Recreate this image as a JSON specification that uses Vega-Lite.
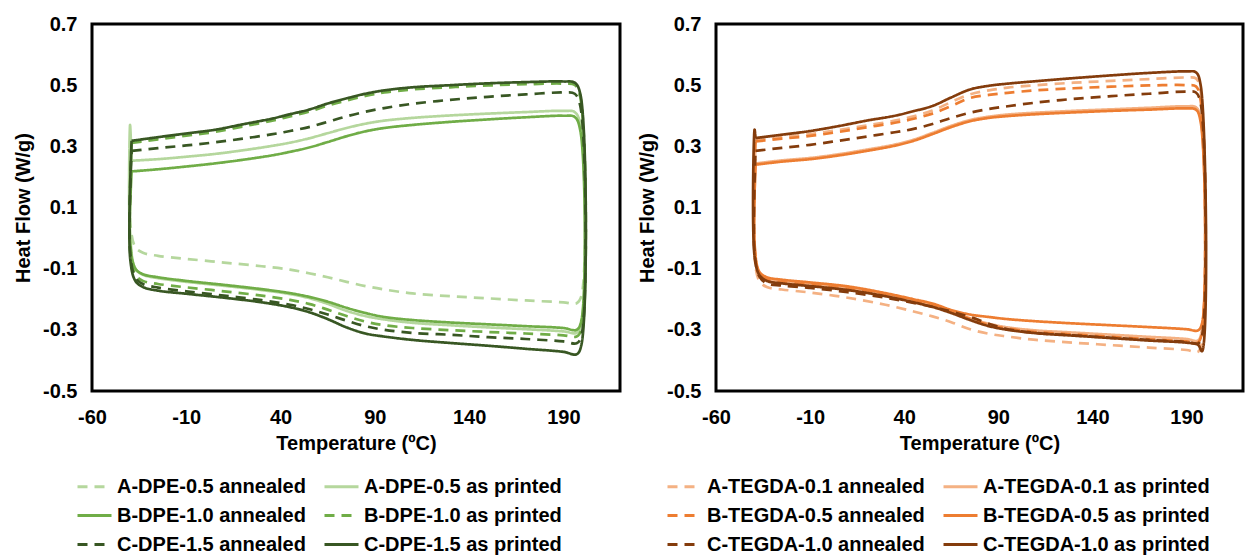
{
"$schema": "https://vega.github.io/schema/vega-lite/v6.json",
"padding": {"left": 12, "top": 12, "right": 0, "bottom": 0},
"config": {
 "font": "Liberation Sans",
 "view": {"stroke": "#000", "strokeWidth": 3},
 "axis": {"grid": false, "ticks": false, "domain": false, "labelFlush": false, "labelOverlap": false, "labelFont": "Liberation Sans", "labelFontSize": 20, "labelFontWeight": "bold", "labelColor": "#000", "titleFont": "Liberation Sans", "titleFontSize": 20, "titleFontWeight": "bold", "titleColor": "#000"},
 "axisX": {"labelPadding": 16, "titlePadding": 6},
 "axisY": {"labelPadding": 15, "titlePadding": 9},
 "legend": {"labelFont": "Liberation Sans", "labelFontSize": 20, "labelFontWeight": "bold", "labelColor": "#000", "symbolType": "stroke", "symbolSize": 1156, "symbolStrokeWidth": 3, "labelOffset": 4, "rowPadding": 0, "columnPadding": 12, "labelLimit": 400}
},
"datasets": {
"dpe": [
{"s":"A-DPE-0.5 annealed","t":-39,"h":0.314},{"s":"A-DPE-0.5 annealed","t":-25,"h":0.326},{"s":"A-DPE-0.5 annealed","t":-10,"h":0.338},{"s":"A-DPE-0.5 annealed","t":5,"h":0.35},{"s":"A-DPE-0.5 annealed","t":20,"h":0.368},{"s":"A-DPE-0.5 annealed","t":35,"h":0.386},{"s":"A-DPE-0.5 annealed","t":45,"h":0.401},{"s":"A-DPE-0.5 annealed","t":55,"h":0.416},{"s":"A-DPE-0.5 annealed","t":65,"h":0.436},{"s":"A-DPE-0.5 annealed","t":75,"h":0.453},{"s":"A-DPE-0.5 annealed","t":85,"h":0.468},{"s":"A-DPE-0.5 annealed","t":95,"h":0.479},{"s":"A-DPE-0.5 annealed","t":110,"h":0.489},{"s":"A-DPE-0.5 annealed","t":130,"h":0.496},{"s":"A-DPE-0.5 annealed","t":150,"h":0.502},{"s":"A-DPE-0.5 annealed","t":170,"h":0.506},{"s":"A-DPE-0.5 annealed","t":190,"h":0.508},{"s":"A-DPE-0.5 annealed","t":196,"h":0.504},{"s":"A-DPE-0.5 annealed","t":199,"h":0.46},{"s":"A-DPE-0.5 annealed","t":199.5,"h":-0.19},{"s":"A-DPE-0.5 annealed","t":197,"h":-0.213},{"s":"A-DPE-0.5 annealed","t":190,"h":-0.21},{"s":"A-DPE-0.5 annealed","t":170,"h":-0.204},{"s":"A-DPE-0.5 annealed","t":150,"h":-0.197},{"s":"A-DPE-0.5 annealed","t":130,"h":-0.19},{"s":"A-DPE-0.5 annealed","t":110,"h":-0.181},{"s":"A-DPE-0.5 annealed","t":95,"h":-0.168},{"s":"A-DPE-0.5 annealed","t":85,"h":-0.157},{"s":"A-DPE-0.5 annealed","t":75,"h":-0.143},{"s":"A-DPE-0.5 annealed","t":65,"h":-0.128},{"s":"A-DPE-0.5 annealed","t":55,"h":-0.115},{"s":"A-DPE-0.5 annealed","t":45,"h":-0.103},{"s":"A-DPE-0.5 annealed","t":30,"h":-0.092},{"s":"A-DPE-0.5 annealed","t":10,"h":-0.08},{"s":"A-DPE-0.5 annealed","t":-10,"h":-0.068},{"s":"A-DPE-0.5 annealed","t":-25,"h":-0.058},{"s":"A-DPE-0.5 annealed","t":-33,"h":-0.048},{"s":"A-DPE-0.5 annealed","t":-37,"h":-0.03},{"s":"A-DPE-0.5 annealed","t":-39.7,"h":0.05},{"s":"A-DPE-0.5 annealed","t":-39,"h":0.314},
{"s":"A-DPE-0.5 as printed","t":-39,"h":0.253},{"s":"A-DPE-0.5 as printed","t":-25,"h":0.258},{"s":"A-DPE-0.5 as printed","t":-10,"h":0.266},{"s":"A-DPE-0.5 as printed","t":5,"h":0.275},{"s":"A-DPE-0.5 as printed","t":20,"h":0.287},{"s":"A-DPE-0.5 as printed","t":35,"h":0.301},{"s":"A-DPE-0.5 as printed","t":45,"h":0.312},{"s":"A-DPE-0.5 as printed","t":55,"h":0.326},{"s":"A-DPE-0.5 as printed","t":65,"h":0.343},{"s":"A-DPE-0.5 as printed","t":75,"h":0.36},{"s":"A-DPE-0.5 as printed","t":85,"h":0.374},{"s":"A-DPE-0.5 as printed","t":95,"h":0.384},{"s":"A-DPE-0.5 as printed","t":110,"h":0.393},{"s":"A-DPE-0.5 as printed","t":130,"h":0.401},{"s":"A-DPE-0.5 as printed","t":150,"h":0.407},{"s":"A-DPE-0.5 as printed","t":170,"h":0.412},{"s":"A-DPE-0.5 as printed","t":190,"h":0.416},{"s":"A-DPE-0.5 as printed","t":196,"h":0.412},{"s":"A-DPE-0.5 as printed","t":199,"h":0.37},{"s":"A-DPE-0.5 as printed","t":199.5,"h":-0.28},{"s":"A-DPE-0.5 as printed","t":197,"h":-0.31},{"s":"A-DPE-0.5 as printed","t":190,"h":-0.305},{"s":"A-DPE-0.5 as printed","t":170,"h":-0.298},{"s":"A-DPE-0.5 as printed","t":150,"h":-0.292},{"s":"A-DPE-0.5 as printed","t":130,"h":-0.285},{"s":"A-DPE-0.5 as printed","t":110,"h":-0.277},{"s":"A-DPE-0.5 as printed","t":95,"h":-0.266},{"s":"A-DPE-0.5 as printed","t":85,"h":-0.255},{"s":"A-DPE-0.5 as printed","t":75,"h":-0.238},{"s":"A-DPE-0.5 as printed","t":65,"h":-0.215},{"s":"A-DPE-0.5 as printed","t":55,"h":-0.196},{"s":"A-DPE-0.5 as printed","t":45,"h":-0.183},{"s":"A-DPE-0.5 as printed","t":30,"h":-0.17},{"s":"A-DPE-0.5 as printed","t":10,"h":-0.156},{"s":"A-DPE-0.5 as printed","t":-10,"h":-0.143},{"s":"A-DPE-0.5 as printed","t":-25,"h":-0.131},{"s":"A-DPE-0.5 as printed","t":-33,"h":-0.12},{"s":"A-DPE-0.5 as printed","t":-37,"h":-0.1},{"s":"A-DPE-0.5 as printed","t":-39.7,"h":0.0},{"s":"A-DPE-0.5 as printed","t":-39.8,"h":0.37},{"s":"A-DPE-0.5 as printed","t":-39,"h":0.253},
{"s":"B-DPE-1.0 annealed","t":-39,"h":0.218},{"s":"B-DPE-1.0 annealed","t":-25,"h":0.225},{"s":"B-DPE-1.0 annealed","t":-10,"h":0.234},{"s":"B-DPE-1.0 annealed","t":5,"h":0.244},{"s":"B-DPE-1.0 annealed","t":20,"h":0.256},{"s":"B-DPE-1.0 annealed","t":35,"h":0.27},{"s":"B-DPE-1.0 annealed","t":45,"h":0.282},{"s":"B-DPE-1.0 annealed","t":55,"h":0.296},{"s":"B-DPE-1.0 annealed","t":65,"h":0.314},{"s":"B-DPE-1.0 annealed","t":75,"h":0.333},{"s":"B-DPE-1.0 annealed","t":85,"h":0.349},{"s":"B-DPE-1.0 annealed","t":95,"h":0.36},{"s":"B-DPE-1.0 annealed","t":110,"h":0.37},{"s":"B-DPE-1.0 annealed","t":130,"h":0.38},{"s":"B-DPE-1.0 annealed","t":150,"h":0.388},{"s":"B-DPE-1.0 annealed","t":170,"h":0.395},{"s":"B-DPE-1.0 annealed","t":190,"h":0.4},{"s":"B-DPE-1.0 annealed","t":196,"h":0.396},{"s":"B-DPE-1.0 annealed","t":199,"h":0.35},{"s":"B-DPE-1.0 annealed","t":199.5,"h":-0.27},{"s":"B-DPE-1.0 annealed","t":197,"h":-0.3},{"s":"B-DPE-1.0 annealed","t":190,"h":-0.294},{"s":"B-DPE-1.0 annealed","t":170,"h":-0.288},{"s":"B-DPE-1.0 annealed","t":150,"h":-0.282},{"s":"B-DPE-1.0 annealed","t":130,"h":-0.276},{"s":"B-DPE-1.0 annealed","t":110,"h":-0.268},{"s":"B-DPE-1.0 annealed","t":95,"h":-0.258},{"s":"B-DPE-1.0 annealed","t":85,"h":-0.245},{"s":"B-DPE-1.0 annealed","t":75,"h":-0.228},{"s":"B-DPE-1.0 annealed","t":65,"h":-0.208},{"s":"B-DPE-1.0 annealed","t":55,"h":-0.192},{"s":"B-DPE-1.0 annealed","t":45,"h":-0.18},{"s":"B-DPE-1.0 annealed","t":30,"h":-0.167},{"s":"B-DPE-1.0 annealed","t":10,"h":-0.153},{"s":"B-DPE-1.0 annealed","t":-10,"h":-0.14},{"s":"B-DPE-1.0 annealed","t":-25,"h":-0.128},{"s":"B-DPE-1.0 annealed","t":-33,"h":-0.118},{"s":"B-DPE-1.0 annealed","t":-37,"h":-0.1},{"s":"B-DPE-1.0 annealed","t":-39.7,"h":-0.02},{"s":"B-DPE-1.0 annealed","t":-39,"h":0.218},
{"s":"B-DPE-1.0 as printed","t":-39,"h":0.311},{"s":"B-DPE-1.0 as printed","t":-25,"h":0.323},{"s":"B-DPE-1.0 as printed","t":-10,"h":0.335},{"s":"B-DPE-1.0 as printed","t":5,"h":0.347},{"s":"B-DPE-1.0 as printed","t":20,"h":0.365},{"s":"B-DPE-1.0 as printed","t":35,"h":0.383},{"s":"B-DPE-1.0 as printed","t":45,"h":0.398},{"s":"B-DPE-1.0 as printed","t":55,"h":0.413},{"s":"B-DPE-1.0 as printed","t":65,"h":0.433},{"s":"B-DPE-1.0 as printed","t":75,"h":0.45},{"s":"B-DPE-1.0 as printed","t":85,"h":0.465},{"s":"B-DPE-1.0 as printed","t":95,"h":0.476},{"s":"B-DPE-1.0 as printed","t":110,"h":0.486},{"s":"B-DPE-1.0 as printed","t":130,"h":0.493},{"s":"B-DPE-1.0 as printed","t":150,"h":0.499},{"s":"B-DPE-1.0 as printed","t":170,"h":0.503},{"s":"B-DPE-1.0 as printed","t":190,"h":0.505},{"s":"B-DPE-1.0 as printed","t":196,"h":0.501},{"s":"B-DPE-1.0 as printed","t":199,"h":0.46},{"s":"B-DPE-1.0 as printed","t":199.5,"h":-0.3},{"s":"B-DPE-1.0 as printed","t":197,"h":-0.322},{"s":"B-DPE-1.0 as printed","t":190,"h":-0.318},{"s":"B-DPE-1.0 as printed","t":170,"h":-0.312},{"s":"B-DPE-1.0 as printed","t":150,"h":-0.307},{"s":"B-DPE-1.0 as printed","t":130,"h":-0.301},{"s":"B-DPE-1.0 as printed","t":110,"h":-0.294},{"s":"B-DPE-1.0 as printed","t":95,"h":-0.285},{"s":"B-DPE-1.0 as printed","t":85,"h":-0.273},{"s":"B-DPE-1.0 as printed","t":75,"h":-0.255},{"s":"B-DPE-1.0 as printed","t":65,"h":-0.234},{"s":"B-DPE-1.0 as printed","t":55,"h":-0.215},{"s":"B-DPE-1.0 as printed","t":45,"h":-0.202},{"s":"B-DPE-1.0 as printed","t":30,"h":-0.188},{"s":"B-DPE-1.0 as printed","t":10,"h":-0.174},{"s":"B-DPE-1.0 as printed","t":-10,"h":-0.161},{"s":"B-DPE-1.0 as printed","t":-25,"h":-0.15},{"s":"B-DPE-1.0 as printed","t":-33,"h":-0.14},{"s":"B-DPE-1.0 as printed","t":-37,"h":-0.12},{"s":"B-DPE-1.0 as printed","t":-39.7,"h":-0.04},{"s":"B-DPE-1.0 as printed","t":-39,"h":0.311},
{"s":"C-DPE-1.5 annealed","t":-39,"h":0.285},{"s":"C-DPE-1.5 annealed","t":-25,"h":0.294},{"s":"C-DPE-1.5 annealed","t":-10,"h":0.303},{"s":"C-DPE-1.5 annealed","t":5,"h":0.313},{"s":"C-DPE-1.5 annealed","t":20,"h":0.325},{"s":"C-DPE-1.5 annealed","t":35,"h":0.339},{"s":"C-DPE-1.5 annealed","t":45,"h":0.35},{"s":"C-DPE-1.5 annealed","t":55,"h":0.363},{"s":"C-DPE-1.5 annealed","t":65,"h":0.38},{"s":"C-DPE-1.5 annealed","t":75,"h":0.398},{"s":"C-DPE-1.5 annealed","t":85,"h":0.413},{"s":"C-DPE-1.5 annealed","t":95,"h":0.425},{"s":"C-DPE-1.5 annealed","t":110,"h":0.439},{"s":"C-DPE-1.5 annealed","t":130,"h":0.452},{"s":"C-DPE-1.5 annealed","t":150,"h":0.462},{"s":"C-DPE-1.5 annealed","t":170,"h":0.47},{"s":"C-DPE-1.5 annealed","t":190,"h":0.476},{"s":"C-DPE-1.5 annealed","t":196,"h":0.472},{"s":"C-DPE-1.5 annealed","t":199,"h":0.43},{"s":"C-DPE-1.5 annealed","t":199.5,"h":-0.32},{"s":"C-DPE-1.5 annealed","t":197,"h":-0.344},{"s":"C-DPE-1.5 annealed","t":190,"h":-0.338},{"s":"C-DPE-1.5 annealed","t":170,"h":-0.33},{"s":"C-DPE-1.5 annealed","t":150,"h":-0.324},{"s":"C-DPE-1.5 annealed","t":130,"h":-0.316},{"s":"C-DPE-1.5 annealed","t":110,"h":-0.31},{"s":"C-DPE-1.5 annealed","t":95,"h":-0.3},{"s":"C-DPE-1.5 annealed","t":85,"h":-0.288},{"s":"C-DPE-1.5 annealed","t":75,"h":-0.27},{"s":"C-DPE-1.5 annealed","t":65,"h":-0.25},{"s":"C-DPE-1.5 annealed","t":55,"h":-0.232},{"s":"C-DPE-1.5 annealed","t":45,"h":-0.218},{"s":"C-DPE-1.5 annealed","t":30,"h":-0.203},{"s":"C-DPE-1.5 annealed","t":10,"h":-0.188},{"s":"C-DPE-1.5 annealed","t":-10,"h":-0.174},{"s":"C-DPE-1.5 annealed","t":-25,"h":-0.162},{"s":"C-DPE-1.5 annealed","t":-33,"h":-0.15},{"s":"C-DPE-1.5 annealed","t":-37,"h":-0.13},{"s":"C-DPE-1.5 annealed","t":-39.7,"h":-0.05},{"s":"C-DPE-1.5 annealed","t":-39,"h":0.285},
{"s":"C-DPE-1.5 as printed","t":-39,"h":0.318},{"s":"C-DPE-1.5 as printed","t":-25,"h":0.33},{"s":"C-DPE-1.5 as printed","t":-10,"h":0.342},{"s":"C-DPE-1.5 as printed","t":5,"h":0.354},{"s":"C-DPE-1.5 as printed","t":20,"h":0.372},{"s":"C-DPE-1.5 as printed","t":35,"h":0.39},{"s":"C-DPE-1.5 as printed","t":45,"h":0.405},{"s":"C-DPE-1.5 as printed","t":55,"h":0.42},{"s":"C-DPE-1.5 as printed","t":65,"h":0.44},{"s":"C-DPE-1.5 as printed","t":75,"h":0.457},{"s":"C-DPE-1.5 as printed","t":85,"h":0.472},{"s":"C-DPE-1.5 as printed","t":95,"h":0.483},{"s":"C-DPE-1.5 as printed","t":110,"h":0.493},{"s":"C-DPE-1.5 as printed","t":130,"h":0.5},{"s":"C-DPE-1.5 as printed","t":150,"h":0.506},{"s":"C-DPE-1.5 as printed","t":170,"h":0.51},{"s":"C-DPE-1.5 as printed","t":190,"h":0.512},{"s":"C-DPE-1.5 as printed","t":196,"h":0.508},{"s":"C-DPE-1.5 as printed","t":199,"h":0.47},{"s":"C-DPE-1.5 as printed","t":199.5,"h":-0.35},{"s":"C-DPE-1.5 as printed","t":197,"h":-0.38},{"s":"C-DPE-1.5 as printed","t":190,"h":-0.372},{"s":"C-DPE-1.5 as printed","t":170,"h":-0.362},{"s":"C-DPE-1.5 as printed","t":150,"h":-0.352},{"s":"C-DPE-1.5 as printed","t":130,"h":-0.343},{"s":"C-DPE-1.5 as printed","t":110,"h":-0.333},{"s":"C-DPE-1.5 as printed","t":95,"h":-0.322},{"s":"C-DPE-1.5 as printed","t":85,"h":-0.312},{"s":"C-DPE-1.5 as printed","t":75,"h":-0.292},{"s":"C-DPE-1.5 as printed","t":65,"h":-0.265},{"s":"C-DPE-1.5 as printed","t":55,"h":-0.242},{"s":"C-DPE-1.5 as printed","t":45,"h":-0.226},{"s":"C-DPE-1.5 as printed","t":30,"h":-0.21},{"s":"C-DPE-1.5 as printed","t":10,"h":-0.195},{"s":"C-DPE-1.5 as printed","t":-10,"h":-0.182},{"s":"C-DPE-1.5 as printed","t":-25,"h":-0.172},{"s":"C-DPE-1.5 as printed","t":-33,"h":-0.16},{"s":"C-DPE-1.5 as printed","t":-37,"h":-0.14},{"s":"C-DPE-1.5 as printed","t":-39.7,"h":-0.07},{"s":"C-DPE-1.5 as printed","t":-39,"h":0.318}
],
"tegda": [
{"s":"A-TEGDA-0.1 annealed","t":-39,"h":0.32},{"s":"A-TEGDA-0.1 annealed","t":-25,"h":0.33},{"s":"A-TEGDA-0.1 annealed","t":-10,"h":0.34},{"s":"A-TEGDA-0.1 annealed","t":5,"h":0.353},{"s":"A-TEGDA-0.1 annealed","t":20,"h":0.368},{"s":"A-TEGDA-0.1 annealed","t":35,"h":0.384},{"s":"A-TEGDA-0.1 annealed","t":45,"h":0.398},{"s":"A-TEGDA-0.1 annealed","t":55,"h":0.417},{"s":"A-TEGDA-0.1 annealed","t":65,"h":0.445},{"s":"A-TEGDA-0.1 annealed","t":75,"h":0.47},{"s":"A-TEGDA-0.1 annealed","t":85,"h":0.483},{"s":"A-TEGDA-0.1 annealed","t":95,"h":0.492},{"s":"A-TEGDA-0.1 annealed","t":110,"h":0.5},{"s":"A-TEGDA-0.1 annealed","t":130,"h":0.508},{"s":"A-TEGDA-0.1 annealed","t":150,"h":0.514},{"s":"A-TEGDA-0.1 annealed","t":170,"h":0.52},{"s":"A-TEGDA-0.1 annealed","t":190,"h":0.525},{"s":"A-TEGDA-0.1 annealed","t":195,"h":0.522},{"s":"A-TEGDA-0.1 annealed","t":197.5,"h":0.48},{"s":"A-TEGDA-0.1 annealed","t":198.2,"h":-0.34},{"s":"A-TEGDA-0.1 annealed","t":196,"h":-0.372},{"s":"A-TEGDA-0.1 annealed","t":190,"h":-0.366},{"s":"A-TEGDA-0.1 annealed","t":170,"h":-0.358},{"s":"A-TEGDA-0.1 annealed","t":150,"h":-0.35},{"s":"A-TEGDA-0.1 annealed","t":130,"h":-0.342},{"s":"A-TEGDA-0.1 annealed","t":110,"h":-0.333},{"s":"A-TEGDA-0.1 annealed","t":95,"h":-0.322},{"s":"A-TEGDA-0.1 annealed","t":85,"h":-0.313},{"s":"A-TEGDA-0.1 annealed","t":75,"h":-0.298},{"s":"A-TEGDA-0.1 annealed","t":65,"h":-0.275},{"s":"A-TEGDA-0.1 annealed","t":55,"h":-0.256},{"s":"A-TEGDA-0.1 annealed","t":45,"h":-0.24},{"s":"A-TEGDA-0.1 annealed","t":30,"h":-0.218},{"s":"A-TEGDA-0.1 annealed","t":10,"h":-0.195},{"s":"A-TEGDA-0.1 annealed","t":-10,"h":-0.178},{"s":"A-TEGDA-0.1 annealed","t":-25,"h":-0.168},{"s":"A-TEGDA-0.1 annealed","t":-33,"h":-0.16},{"s":"A-TEGDA-0.1 annealed","t":-37,"h":-0.14},{"s":"A-TEGDA-0.1 annealed","t":-39.5,"h":-0.06},{"s":"A-TEGDA-0.1 annealed","t":-39,"h":0.32},
{"s":"A-TEGDA-0.1 as printed","t":-39,"h":0.244},{"s":"A-TEGDA-0.1 as printed","t":-25,"h":0.254},{"s":"A-TEGDA-0.1 as printed","t":-10,"h":0.262},{"s":"A-TEGDA-0.1 as printed","t":5,"h":0.274},{"s":"A-TEGDA-0.1 as printed","t":20,"h":0.289},{"s":"A-TEGDA-0.1 as printed","t":35,"h":0.306},{"s":"A-TEGDA-0.1 as printed","t":45,"h":0.322},{"s":"A-TEGDA-0.1 as printed","t":55,"h":0.344},{"s":"A-TEGDA-0.1 as printed","t":65,"h":0.367},{"s":"A-TEGDA-0.1 as printed","t":75,"h":0.386},{"s":"A-TEGDA-0.1 as printed","t":85,"h":0.397},{"s":"A-TEGDA-0.1 as printed","t":95,"h":0.404},{"s":"A-TEGDA-0.1 as printed","t":110,"h":0.41},{"s":"A-TEGDA-0.1 as printed","t":130,"h":0.416},{"s":"A-TEGDA-0.1 as printed","t":150,"h":0.421},{"s":"A-TEGDA-0.1 as printed","t":170,"h":0.426},{"s":"A-TEGDA-0.1 as printed","t":190,"h":0.431},{"s":"A-TEGDA-0.1 as printed","t":195,"h":0.428},{"s":"A-TEGDA-0.1 as printed","t":197.5,"h":0.39},{"s":"A-TEGDA-0.1 as printed","t":198.2,"h":-0.3},{"s":"A-TEGDA-0.1 as printed","t":196,"h":-0.335},{"s":"A-TEGDA-0.1 as printed","t":190,"h":-0.33},{"s":"A-TEGDA-0.1 as printed","t":170,"h":-0.323},{"s":"A-TEGDA-0.1 as printed","t":150,"h":-0.316},{"s":"A-TEGDA-0.1 as printed","t":130,"h":-0.309},{"s":"A-TEGDA-0.1 as printed","t":110,"h":-0.302},{"s":"A-TEGDA-0.1 as printed","t":95,"h":-0.292},{"s":"A-TEGDA-0.1 as printed","t":85,"h":-0.28},{"s":"A-TEGDA-0.1 as printed","t":75,"h":-0.262},{"s":"A-TEGDA-0.1 as printed","t":65,"h":-0.24},{"s":"A-TEGDA-0.1 as printed","t":55,"h":-0.22},{"s":"A-TEGDA-0.1 as printed","t":45,"h":-0.205},{"s":"A-TEGDA-0.1 as printed","t":30,"h":-0.185},{"s":"A-TEGDA-0.1 as printed","t":10,"h":-0.165},{"s":"A-TEGDA-0.1 as printed","t":-10,"h":-0.152},{"s":"A-TEGDA-0.1 as printed","t":-25,"h":-0.143},{"s":"A-TEGDA-0.1 as printed","t":-33,"h":-0.135},{"s":"A-TEGDA-0.1 as printed","t":-37,"h":-0.115},{"s":"A-TEGDA-0.1 as printed","t":-39.5,"h":-0.03},{"s":"A-TEGDA-0.1 as printed","t":-39,"h":0.244},
{"s":"B-TEGDA-0.5 annealed","t":-39,"h":0.316},{"s":"B-TEGDA-0.5 annealed","t":-25,"h":0.325},{"s":"B-TEGDA-0.5 annealed","t":-10,"h":0.334},{"s":"B-TEGDA-0.5 annealed","t":5,"h":0.347},{"s":"B-TEGDA-0.5 annealed","t":20,"h":0.362},{"s":"B-TEGDA-0.5 annealed","t":35,"h":0.377},{"s":"B-TEGDA-0.5 annealed","t":45,"h":0.39},{"s":"B-TEGDA-0.5 annealed","t":55,"h":0.407},{"s":"B-TEGDA-0.5 annealed","t":65,"h":0.432},{"s":"B-TEGDA-0.5 annealed","t":75,"h":0.458},{"s":"B-TEGDA-0.5 annealed","t":85,"h":0.468},{"s":"B-TEGDA-0.5 annealed","t":95,"h":0.475},{"s":"B-TEGDA-0.5 annealed","t":110,"h":0.483},{"s":"B-TEGDA-0.5 annealed","t":130,"h":0.49},{"s":"B-TEGDA-0.5 annealed","t":150,"h":0.495},{"s":"B-TEGDA-0.5 annealed","t":170,"h":0.499},{"s":"B-TEGDA-0.5 annealed","t":190,"h":0.5},{"s":"B-TEGDA-0.5 annealed","t":195,"h":0.496},{"s":"B-TEGDA-0.5 annealed","t":197.5,"h":0.45},{"s":"B-TEGDA-0.5 annealed","t":198.2,"h":-0.31},{"s":"B-TEGDA-0.5 annealed","t":196,"h":-0.342},{"s":"B-TEGDA-0.5 annealed","t":190,"h":-0.338},{"s":"B-TEGDA-0.5 annealed","t":170,"h":-0.331},{"s":"B-TEGDA-0.5 annealed","t":150,"h":-0.323},{"s":"B-TEGDA-0.5 annealed","t":130,"h":-0.315},{"s":"B-TEGDA-0.5 annealed","t":110,"h":-0.307},{"s":"B-TEGDA-0.5 annealed","t":95,"h":-0.296},{"s":"B-TEGDA-0.5 annealed","t":85,"h":-0.284},{"s":"B-TEGDA-0.5 annealed","t":75,"h":-0.264},{"s":"B-TEGDA-0.5 annealed","t":65,"h":-0.241},{"s":"B-TEGDA-0.5 annealed","t":55,"h":-0.221},{"s":"B-TEGDA-0.5 annealed","t":45,"h":-0.206},{"s":"B-TEGDA-0.5 annealed","t":30,"h":-0.186},{"s":"B-TEGDA-0.5 annealed","t":10,"h":-0.166},{"s":"B-TEGDA-0.5 annealed","t":-10,"h":-0.153},{"s":"B-TEGDA-0.5 annealed","t":-25,"h":-0.144},{"s":"B-TEGDA-0.5 annealed","t":-33,"h":-0.136},{"s":"B-TEGDA-0.5 annealed","t":-37,"h":-0.116},{"s":"B-TEGDA-0.5 annealed","t":-39.5,"h":-0.04},{"s":"B-TEGDA-0.5 annealed","t":-39,"h":0.316},
{"s":"B-TEGDA-0.5 as printed","t":-39,"h":0.24},{"s":"B-TEGDA-0.5 as printed","t":-25,"h":0.25},{"s":"B-TEGDA-0.5 as printed","t":-10,"h":0.258},{"s":"B-TEGDA-0.5 as printed","t":5,"h":0.27},{"s":"B-TEGDA-0.5 as printed","t":20,"h":0.285},{"s":"B-TEGDA-0.5 as printed","t":35,"h":0.302},{"s":"B-TEGDA-0.5 as printed","t":45,"h":0.318},{"s":"B-TEGDA-0.5 as printed","t":55,"h":0.34},{"s":"B-TEGDA-0.5 as printed","t":65,"h":0.363},{"s":"B-TEGDA-0.5 as printed","t":75,"h":0.382},{"s":"B-TEGDA-0.5 as printed","t":85,"h":0.393},{"s":"B-TEGDA-0.5 as printed","t":95,"h":0.399},{"s":"B-TEGDA-0.5 as printed","t":110,"h":0.405},{"s":"B-TEGDA-0.5 as printed","t":130,"h":0.411},{"s":"B-TEGDA-0.5 as printed","t":150,"h":0.416},{"s":"B-TEGDA-0.5 as printed","t":170,"h":0.42},{"s":"B-TEGDA-0.5 as printed","t":190,"h":0.424},{"s":"B-TEGDA-0.5 as printed","t":195,"h":0.42},{"s":"B-TEGDA-0.5 as printed","t":197.5,"h":0.38},{"s":"B-TEGDA-0.5 as printed","t":198.2,"h":-0.28},{"s":"B-TEGDA-0.5 as printed","t":196,"h":-0.302},{"s":"B-TEGDA-0.5 as printed","t":190,"h":-0.298},{"s":"B-TEGDA-0.5 as printed","t":170,"h":-0.291},{"s":"B-TEGDA-0.5 as printed","t":150,"h":-0.285},{"s":"B-TEGDA-0.5 as printed","t":130,"h":-0.279},{"s":"B-TEGDA-0.5 as printed","t":110,"h":-0.272},{"s":"B-TEGDA-0.5 as printed","t":95,"h":-0.265},{"s":"B-TEGDA-0.5 as printed","t":85,"h":-0.258},{"s":"B-TEGDA-0.5 as printed","t":75,"h":-0.25},{"s":"B-TEGDA-0.5 as printed","t":65,"h":-0.235},{"s":"B-TEGDA-0.5 as printed","t":55,"h":-0.214},{"s":"B-TEGDA-0.5 as printed","t":45,"h":-0.2},{"s":"B-TEGDA-0.5 as printed","t":30,"h":-0.18},{"s":"B-TEGDA-0.5 as printed","t":10,"h":-0.158},{"s":"B-TEGDA-0.5 as printed","t":-10,"h":-0.145},{"s":"B-TEGDA-0.5 as printed","t":-25,"h":-0.136},{"s":"B-TEGDA-0.5 as printed","t":-33,"h":-0.128},{"s":"B-TEGDA-0.5 as printed","t":-37,"h":-0.11},{"s":"B-TEGDA-0.5 as printed","t":-39.5,"h":-0.02},{"s":"B-TEGDA-0.5 as printed","t":-39,"h":0.24},
{"s":"C-TEGDA-1.0 annealed","t":-39,"h":0.285},{"s":"C-TEGDA-1.0 annealed","t":-25,"h":0.295},{"s":"C-TEGDA-1.0 annealed","t":-10,"h":0.305},{"s":"C-TEGDA-1.0 annealed","t":5,"h":0.318},{"s":"C-TEGDA-1.0 annealed","t":20,"h":0.332},{"s":"C-TEGDA-1.0 annealed","t":35,"h":0.346},{"s":"C-TEGDA-1.0 annealed","t":45,"h":0.357},{"s":"C-TEGDA-1.0 annealed","t":55,"h":0.373},{"s":"C-TEGDA-1.0 annealed","t":65,"h":0.393},{"s":"C-TEGDA-1.0 annealed","t":75,"h":0.41},{"s":"C-TEGDA-1.0 annealed","t":85,"h":0.422},{"s":"C-TEGDA-1.0 annealed","t":95,"h":0.431},{"s":"C-TEGDA-1.0 annealed","t":110,"h":0.443},{"s":"C-TEGDA-1.0 annealed","t":130,"h":0.455},{"s":"C-TEGDA-1.0 annealed","t":150,"h":0.464},{"s":"C-TEGDA-1.0 annealed","t":170,"h":0.472},{"s":"C-TEGDA-1.0 annealed","t":190,"h":0.479},{"s":"C-TEGDA-1.0 annealed","t":195,"h":0.476},{"s":"C-TEGDA-1.0 annealed","t":197.5,"h":0.44},{"s":"C-TEGDA-1.0 annealed","t":198.2,"h":-0.32},{"s":"C-TEGDA-1.0 annealed","t":196,"h":-0.345},{"s":"C-TEGDA-1.0 annealed","t":190,"h":-0.34},{"s":"C-TEGDA-1.0 annealed","t":170,"h":-0.333},{"s":"C-TEGDA-1.0 annealed","t":150,"h":-0.326},{"s":"C-TEGDA-1.0 annealed","t":130,"h":-0.318},{"s":"C-TEGDA-1.0 annealed","t":110,"h":-0.31},{"s":"C-TEGDA-1.0 annealed","t":95,"h":-0.298},{"s":"C-TEGDA-1.0 annealed","t":85,"h":-0.28},{"s":"C-TEGDA-1.0 annealed","t":75,"h":-0.258},{"s":"C-TEGDA-1.0 annealed","t":65,"h":-0.24},{"s":"C-TEGDA-1.0 annealed","t":55,"h":-0.225},{"s":"C-TEGDA-1.0 annealed","t":45,"h":-0.212},{"s":"C-TEGDA-1.0 annealed","t":30,"h":-0.195},{"s":"C-TEGDA-1.0 annealed","t":10,"h":-0.177},{"s":"C-TEGDA-1.0 annealed","t":-10,"h":-0.163},{"s":"C-TEGDA-1.0 annealed","t":-25,"h":-0.155},{"s":"C-TEGDA-1.0 annealed","t":-33,"h":-0.148},{"s":"C-TEGDA-1.0 annealed","t":-37,"h":-0.125},{"s":"C-TEGDA-1.0 annealed","t":-39.5,"h":-0.05},{"s":"C-TEGDA-1.0 annealed","t":-39,"h":0.285},
{"s":"C-TEGDA-1.0 as printed","t":-39,"h":0.327},{"s":"C-TEGDA-1.0 as printed","t":-25,"h":0.338},{"s":"C-TEGDA-1.0 as printed","t":-10,"h":0.35},{"s":"C-TEGDA-1.0 as printed","t":5,"h":0.366},{"s":"C-TEGDA-1.0 as printed","t":20,"h":0.384},{"s":"C-TEGDA-1.0 as printed","t":35,"h":0.4},{"s":"C-TEGDA-1.0 as printed","t":45,"h":0.415},{"s":"C-TEGDA-1.0 as printed","t":55,"h":0.432},{"s":"C-TEGDA-1.0 as printed","t":65,"h":0.46},{"s":"C-TEGDA-1.0 as printed","t":75,"h":0.486},{"s":"C-TEGDA-1.0 as printed","t":85,"h":0.498},{"s":"C-TEGDA-1.0 as printed","t":95,"h":0.505},{"s":"C-TEGDA-1.0 as printed","t":110,"h":0.513},{"s":"C-TEGDA-1.0 as printed","t":130,"h":0.523},{"s":"C-TEGDA-1.0 as printed","t":150,"h":0.532},{"s":"C-TEGDA-1.0 as printed","t":170,"h":0.54},{"s":"C-TEGDA-1.0 as printed","t":190,"h":0.545},{"s":"C-TEGDA-1.0 as printed","t":195,"h":0.542},{"s":"C-TEGDA-1.0 as printed","t":197.5,"h":0.5},{"s":"C-TEGDA-1.0 as printed","t":198.2,"h":-0.37},{"s":"C-TEGDA-1.0 as printed","t":196,"h":-0.348},{"s":"C-TEGDA-1.0 as printed","t":190,"h":-0.342},{"s":"C-TEGDA-1.0 as printed","t":170,"h":-0.335},{"s":"C-TEGDA-1.0 as printed","t":150,"h":-0.327},{"s":"C-TEGDA-1.0 as printed","t":130,"h":-0.319},{"s":"C-TEGDA-1.0 as printed","t":110,"h":-0.311},{"s":"C-TEGDA-1.0 as printed","t":95,"h":-0.3},{"s":"C-TEGDA-1.0 as printed","t":85,"h":-0.288},{"s":"C-TEGDA-1.0 as printed","t":75,"h":-0.268},{"s":"C-TEGDA-1.0 as printed","t":65,"h":-0.245},{"s":"C-TEGDA-1.0 as printed","t":55,"h":-0.225},{"s":"C-TEGDA-1.0 as printed","t":45,"h":-0.21},{"s":"C-TEGDA-1.0 as printed","t":30,"h":-0.19},{"s":"C-TEGDA-1.0 as printed","t":10,"h":-0.17},{"s":"C-TEGDA-1.0 as printed","t":-10,"h":-0.157},{"s":"C-TEGDA-1.0 as printed","t":-25,"h":-0.148},{"s":"C-TEGDA-1.0 as printed","t":-33,"h":-0.14},{"s":"C-TEGDA-1.0 as printed","t":-37,"h":-0.12},{"s":"C-TEGDA-1.0 as printed","t":-39.5,"h":-0.06},{"s":"C-TEGDA-1.0 as printed","t":-39.5,"h":0.355},{"s":"C-TEGDA-1.0 as printed","t":-39,"h":0.327}
]
},
"spacing": 14,
"resolve": {"scale": {"color": "independent", "strokeDash": "independent"}, "legend": {"color": "independent", "strokeDash": "independent"}},
"hconcat": [
{
 "width": 528, "height": 367,
 "data": {"name": "dpe"},
 "mark": {"type": "line", "interpolate": "catmull-rom", "strokeWidth": 2.7},
 "encoding": {
  "x": {"field": "t", "type": "quantitative", "scale": {"domain": [-60, 220], "nice": false, "zero": false}, "axis": {"values": [-60, -10, 40, 90, 140, 190], "title": "Temperature (ºC)", "labelExpr": "replace(datum.label, '−', '-')"}},
  "y": {"field": "h", "type": "quantitative", "scale": {"domain": [-0.5, 0.7], "nice": false, "zero": false}, "axis": {"values": [-0.5, -0.3, -0.1, 0.1, 0.3, 0.5, 0.7], "format": ".1f", "title": "Heat Flow (W/g)", "labelExpr": "replace(datum.label, '−', '-')"}},
  "color": {"field": "s", "type": "nominal", "scale": {"domain": ["A-DPE-0.5 annealed", "B-DPE-1.0 annealed", "C-DPE-1.5 annealed", "A-DPE-0.5 as printed", "B-DPE-1.0 as printed", "C-DPE-1.5 as printed"], "range": ["#b5d79d", "#70ad47", "#385723", "#b5d79d", "#70ad47", "#385723"]}, "legend": {"title": null, "orient": "none", "legendX": -16, "legendY": 444, "columns": 2}},
  "strokeDash": {"field": "s", "type": "nominal", "scale": {"domain": ["A-DPE-0.5 annealed", "B-DPE-1.0 annealed", "C-DPE-1.5 annealed", "A-DPE-0.5 as printed", "B-DPE-1.0 as printed", "C-DPE-1.5 as printed"], "range": [[10, 7], [1, 0], [10, 7], [1, 0], [10, 7], [1, 0]]}, "legend": {"title": null, "orient": "none", "legendX": -16, "legendY": 444, "columns": 2}},
  "order": {"value": null}
 }
},
{
 "width": 527, "height": 367,
 "data": {"name": "tegda"},
 "mark": {"type": "line", "interpolate": "catmull-rom", "strokeWidth": 2.7},
 "encoding": {
  "x": {"field": "t", "type": "quantitative", "scale": {"domain": [-60, 220], "nice": false, "zero": false}, "axis": {"values": [-60, -10, 40, 90, 140, 190], "title": "Temperature (ºC)", "labelExpr": "replace(datum.label, '−', '-')"}},
  "y": {"field": "h", "type": "quantitative", "scale": {"domain": [-0.5, 0.7], "nice": false, "zero": false}, "axis": {"values": [-0.5, -0.3, -0.1, 0.1, 0.3, 0.5, 0.7], "format": ".1f", "title": "Heat Flow (W/g)", "labelExpr": "replace(datum.label, '−', '-')"}},
  "color": {"field": "s", "type": "nominal", "scale": {"domain": ["A-TEGDA-0.1 annealed", "B-TEGDA-0.5 annealed", "C-TEGDA-1.0 annealed", "A-TEGDA-0.1 as printed", "B-TEGDA-0.5 as printed", "C-TEGDA-1.0 as printed"], "range": ["#f4b183", "#ed7d31", "#843c0c", "#f4b183", "#ed7d31", "#843c0c"]}, "legend": {"title": null, "orient": "none", "legendX": -50, "legendY": 444, "columns": 2}},
  "strokeDash": {"field": "s", "type": "nominal", "scale": {"domain": ["A-TEGDA-0.1 annealed", "B-TEGDA-0.5 annealed", "C-TEGDA-1.0 annealed", "A-TEGDA-0.1 as printed", "B-TEGDA-0.5 as printed", "C-TEGDA-1.0 as printed"], "range": [[10, 7], [10, 7], [10, 7], [1, 0], [1, 0], [1, 0]]}, "legend": {"title": null, "orient": "none", "legendX": -50, "legendY": 444, "columns": 2}},
  "order": {"value": null}
 }
}
]
}
